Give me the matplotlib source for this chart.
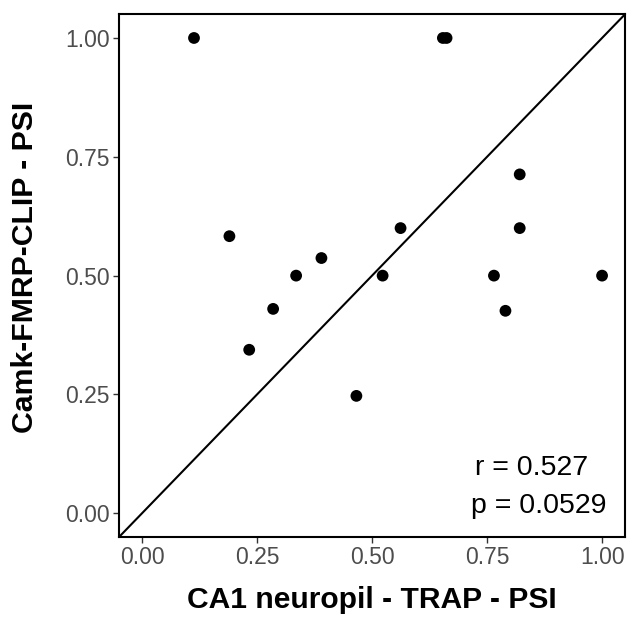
import matplotlib
matplotlib.use("Agg")
import matplotlib.pyplot as plt

plt.rcParams['font.family'] = ['Liberation Sans', 'DejaVu Sans']

# PSI values
trap_psi = [0.113, 0.19, 0.233, 0.285, 0.335, 0.39, 0.466, 0.523, 0.562,
            0.654, 0.662, 0.765, 0.79, 0.821, 0.821, 1.0]
clip_psi = [1.0, 0.583, 0.344, 0.43, 0.5, 0.537, 0.247, 0.5, 0.6,
            1.0, 1.0, 0.5, 0.426, 0.713, 0.6, 0.5]
ticks = [0.0, 0.25, 0.5, 0.75, 1.0]
tick_labels = ["0.00", "0.25", "0.50", "0.75", "1.00"]
r_text = "r = 0.527"
p_text = "p = 0.0529"

fig = plt.figure(figsize=(6.31, 6.18), dpi=100)
ax = fig.add_axes([0.1886, 0.131, 0.802, 0.846])

ax.set_xlim(-0.05, 1.05)
ax.set_ylim(-0.05, 1.05)
ax.plot([-0.05, 1.05], [-0.05, 1.05], color="black", lw=1.5, zorder=2)
ax.scatter(trap_psi, clip_psi, s=72, color="black", edgecolors="none", zorder=3)

ax.set_xticks(ticks)
ax.set_xticklabels(tick_labels)
ax.set_yticks(ticks)
ax.set_yticklabels(tick_labels)
ax.tick_params(direction="out", length=4, width=1, color="#333333",
               labelsize=16.5, labelcolor="#4D4D4D", pad=2.5)
for s in ax.spines.values():
    s.set_linewidth(1.5)
    s.set_color("black")

ax.set_xlabel("CA1 neuropil - TRAP - PSI", fontsize=21.6, fontweight="bold")
ax.set_ylabel("Camk-FMRP-CLIP - PSI", fontsize=21.8, fontweight="bold")
ax.xaxis.set_label_coords(0.5, -0.094)
ax.yaxis.set_label_coords(-0.159, 0.516)

ax.text(0.846, 0.095, r_text, fontsize=20.5, ha="center", va="center")
ax.text(0.863, 0.015, p_text, fontsize=20.5, ha="center", va="center")

fig.savefig("out.png", dpi=100)
